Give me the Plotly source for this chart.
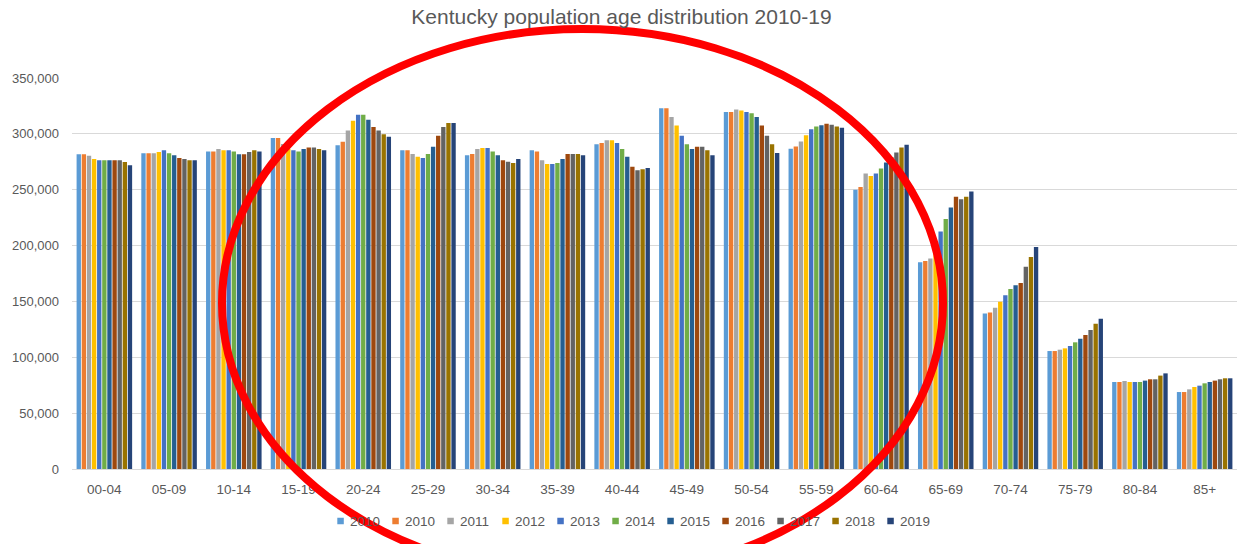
import plotly.graph_objects as go

categories = ["00-04", "05-09", "10-14", "15-19", "20-24", "25-29", "30-34", "35-39", "40-44",
              "45-49", "50-54", "55-59", "60-64", "65-69", "70-74", "75-79", "80-84", "85+"]

series_names = ["2010", "2010", "2011", "2012", "2013", "2014", "2015", "2016", "2017", "2018", "2019"]

s2010a = [281700, 282600, 284100, 296300, 289700, 285300, 280800, 285300, 290600, 322900, 319600, 286700, 250000, 185100, 139100, 105600, 77900, 68900]
s2010b = [281700, 282600, 284100, 296300, 293000, 285300, 282000, 284100, 291800, 322900, 319600, 288700, 252400, 186300, 140000, 105600, 77900, 68900]
s2011 = [280500, 282600, 286500, 291000, 302900, 282000, 286500, 276300, 294200, 315100, 321700, 293200, 264600, 188400, 144400, 106800, 78800, 71300]
s2012 = [277500, 283800, 285300, 286500, 311800, 279600, 287400, 273000, 294200, 307400, 320800, 298800, 262200, 199000, 149800, 108000, 77900, 73400]
s2013 = [276300, 285300, 285300, 285300, 317200, 278400, 287400, 273000, 291800, 298400, 319600, 304200, 264600, 212500, 155500, 110100, 77900, 74600]
s2014 = [276300, 282600, 284100, 284100, 317200, 282000, 284100, 273900, 286500, 290600, 318400, 306600, 269100, 223800, 161100, 113400, 77900, 76700]
s2015 = [276300, 280800, 281700, 286500, 312700, 288500, 280800, 277500, 279600, 286500, 315100, 307700, 274400, 234000, 164400, 116700, 79100, 77900]
s2016 = [276300, 278400, 281700, 287700, 306200, 298400, 276300, 282000, 270600, 288500, 307400, 309000, 279200, 243800, 166500, 120000, 80300, 79100]
s2017 = [276300, 277500, 283800, 287700, 302900, 306200, 275100, 282000, 267400, 288500, 298400, 308100, 283300, 241400, 181100, 124400, 80300, 80300]
s2018 = [274800, 276300, 285300, 286500, 299600, 309700, 273900, 282000, 268300, 285300, 290600, 306600, 287800, 243800, 189800, 130100, 83600, 81200]
s2019 = [271800, 276300, 284100, 285300, 297500, 309700, 277500, 280800, 269500, 280800, 282900, 305400, 290200, 248300, 198700, 134600, 85600, 81200]

series_values = [s2010a, s2010b, s2011, s2012, s2013, s2014, s2015, s2016, s2017, s2018, s2019]

colors = ["#5B9BD5", "#ED7D31", "#A5A5A5", "#FFC000", "#4472C4", "#70AD47",
          "#255E91", "#9E480E", "#636363", "#997300", "#264478"]

y_ticks = [0, 50000, 100000, 150000, 200000, 250000, 300000, 350000]

FONT = "Liberation Sans Narrow, Arial Narrow, Liberation Sans, sans-serif"
GRAY = "#595959"

# figure geometry (body margin removed via post_script)
W, H = 1243, 544
ML, MR, MT, MB = 72, 6, 78, 75
PW = W - ML - MR
PH = H - MT - MB


def px_x(page_x):
    return (page_x - ML) / PW


def px_y(page_y):
    return (H - MB - page_y) / PH


fig = go.Figure()
for name, vals, col in zip(series_names, series_values, colors):
    fig.add_trace(go.Bar(x=categories, y=vals, name=name, marker=dict(color=col, line=dict(width=0))))

fig.update_layout(
    width=W, height=H,
    paper_bgcolor="white", plot_bgcolor="white",
    margin=dict(l=ML, r=MR, t=MT, b=MB),
    barmode="group", bargap=0.13, bargroupgap=0.15,
    font=dict(family=FONT, color=GRAY, size=13),
    title=dict(text="Kentucky population age distribution 2010-19", x=0.5, xanchor="center",
               y=1 - 17 / H, yanchor="middle", font=dict(family=FONT, size=21, color=GRAY)),
    xaxis=dict(type="category", showline=True, linecolor="#D9D9D9", linewidth=1, ticks="",
               showgrid=False, ticklabelstandoff=8, tickfont=dict(size=13.5, color=GRAY)),
    yaxis=dict(range=[0, 350000], tickvals=y_ticks, tickformat=",", showgrid=True,
               gridcolor="#D9D9D9", gridwidth=1, zeroline=False, showline=False, ticks="",
               ticklabelstandoff=12, tickfont=dict(size=13, color=GRAY)),
    showlegend=False,
)

# legend drawn as swatches + text below the plot
leg_x0 = 337.3
leg_step = 55.0
sw = 6.5
leg_cy = 521
for i, (name, col) in enumerate(zip(series_names, colors)):
    sx = leg_x0 + i * leg_step
    fig.add_shape(type="rect", xref="paper", yref="paper",
                  x0=px_x(sx), x1=px_x(sx + sw), y0=px_y(leg_cy + sw / 2), y1=px_y(leg_cy - sw / 2),
                  fillcolor=col, line=dict(width=0), layer="above")
    fig.add_annotation(xref="paper", yref="paper", x=px_x(sx + sw + 4), y=px_y(leg_cy),
                       xanchor="left", yanchor="middle", text=name, showarrow=False,
                       font=dict(family=FONT, size=13.5, color=GRAY))

fig.add_shape(type="circle", xref="paper", yref="paper",
              x0=px_x(222), x1=px_x(943),
              y0=px_y(577), y1=px_y(29),
              line=dict(color="#FF0000", width=8), layer="above")

fig.write_html("out.html", config={"displayModeBar": False},
               post_script="document.body.style.margin='0';document.body.style.overflow='hidden';")
